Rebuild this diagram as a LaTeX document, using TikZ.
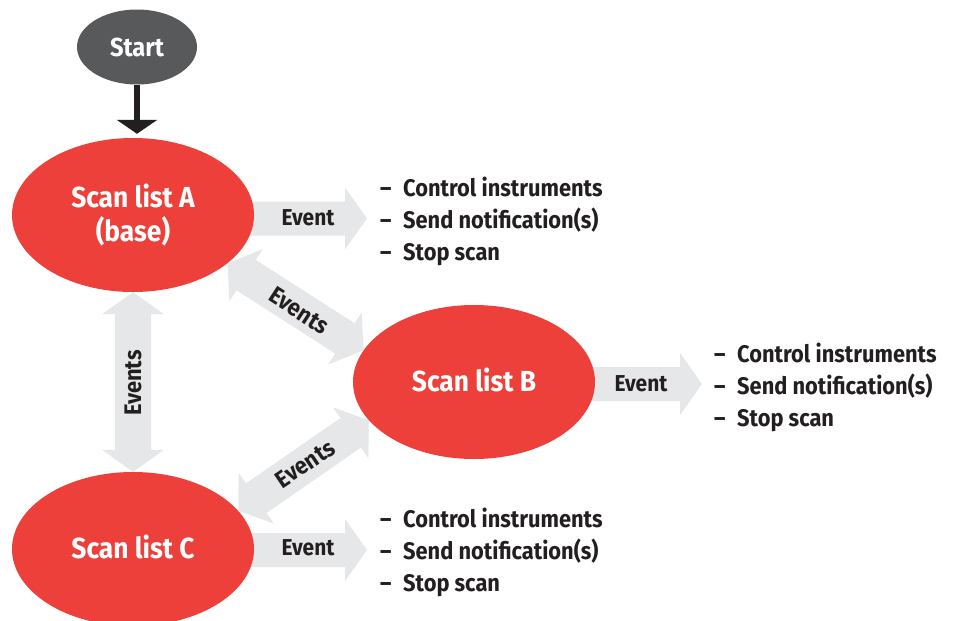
\documentclass[tikz,border=0pt]{standalone}
\usepackage{fontspec}
\setmainfont{Fira Sans}[FakeStretch=0.91]
\usetikzlibrary{calc,arrows.meta,shapes.geometric}
\definecolor{redfill}{RGB}{238,64,58}
\definecolor{evgray}{RGB}{230,231,232}
\definecolor{startgray}{RGB}{88,89,91}
\definecolor{txt}{RGB}{35,31,32}
\pgfdeclarelayer{bg}
\pgfsetlayers{bg,main}
\newcommand\fatdbl[2]{%
 \fill[evgray] (#1)
 -- ($(#1)!22pt!(#2)!31pt!90:(#2)$)
 -- ($(#1)!22pt!(#2)!18pt!90:(#2)$)
 -- ($(#2)!22pt!(#1)!18pt!-90:(#1)$)
 -- ($(#2)!22pt!(#1)!31pt!-90:(#1)$)
 -- (#2)
 -- ($(#2)!22pt!(#1)!31pt!90:(#1)$)
 -- ($(#2)!22pt!(#1)!18pt!90:(#1)$)
 -- ($(#1)!22pt!(#2)!18pt!-90:(#2)$)
 -- ($(#1)!22pt!(#2)!31pt!-90:(#2)$)
 -- cycle;}
\newcommand\fatone[2]{%
 \fill[evgray] ($(#1)!17pt!90:(#2)$)
 -- ($(#2)!22pt!(#1)!17pt!-90:(#1)$)
 -- ($(#2)!22pt!(#1)!31pt!-90:(#1)$)
 -- (#2)
 -- ($(#2)!22pt!(#1)!31pt!90:(#1)$)
 -- ($(#2)!22pt!(#1)!17pt!90:(#1)$)
 -- ($(#1)!17pt!-90:(#2)$) -- cycle;}
\tikzset{
 scan/.style={ellipse, fill=redfill, text=white, minimum width=242pt, minimum height=154pt,
   inner sep=0pt, font=\fontsize{29}{34}\selectfont\bfseries, align=center},
 startnode/.style={ellipse, fill=startgray, text=white, minimum width=120pt, minimum height=75pt,
   inner sep=0pt, font=\fontsize{26}{30}\selectfont\bfseries},
 evlabel/.style={text=txt, inner sep=0pt, font=\fontsize{23}{26}\selectfont\bfseries},
 dbllabel/.style={text=txt, inner sep=0pt, font=\fontsize{24}{26}\selectfont\bfseries},
 listtext/.style={text=txt, inner sep=0pt, align=left, anchor=west,
   font=\fontsize{24}{32}\selectfont\bfseries},
 startarrow/.style={draw=txt, line width=6pt, -{Triangle[width=40pt,length=14pt]}, shorten >=4pt}
}
\newcommand\itm[1]{\makebox[23pt][l]{–}#1}
\begin{document}
\begin{tikzpicture}[x=1pt,y=-1pt]
\clip (0,0) rectangle (959,621);
% nodes
\node[startnode] (start) at (137,47) {Start};
\node[scan] (A) at (133,215) {Scan list A\\(base)};
\node[scan] (B) at (474,382) {\raisebox{4pt}{Scan list B}};
\node[scan] (C) at (133,549) {\raisebox{4pt}{Scan list C}};
% free ends of the event arrows
\coordinate (evA) at (367,218.5);
\coordinate (evB) at (702,384);
\coordinate (evC) at (367,550);
% background and fat arrows behind the ellipses
\begin{pgfonlayer}{bg}
 \fill[white] (0,0) rectangle (959,621);
 \fatone{A.center |- evA}{evA}
 \fatone{B.center |- evB}{evB}
 \fatone{C.center |- evC}{evC}
 \fatdbl{A.south}{C.north}
 \fatdbl{A.-27}{B.164}
 \fatdbl{C.20}{B.200}
\end{pgfonlayer}
% start arrow
\draw[startarrow] (start.south) -- (start.south |- A.north);
% labels
\node[evlabel] (lA) at (308,218) {Event};
\node[evlabel] (lB) at (641,384) {Event};
\node[evlabel] (lC) at (308,548) {Event};
\node[dbllabel, rotate=90] (lAC) at (133,383) {Events};
\node[dbllabel, rotate=-33] (lAB) at (299,311) {Events};
\node[dbllabel, rotate=34] (lCB) at (305,464) {Events};
% lists
\node[listtext] (listA) at (380,221) {\itm{Control instruments}\\\itm{Send notification(s)}\\\itm{Stop scan}};
\node[listtext] (listB) at (714,387) {\itm{Control instruments}\\\itm{Send notification(s)}\\\itm{Stop scan}};
\node[listtext] (listC) at (380,552) {\itm{Control instruments}\\\itm{Send notification(s)}\\\itm{Stop scan}};
\end{tikzpicture}
\end{document}
